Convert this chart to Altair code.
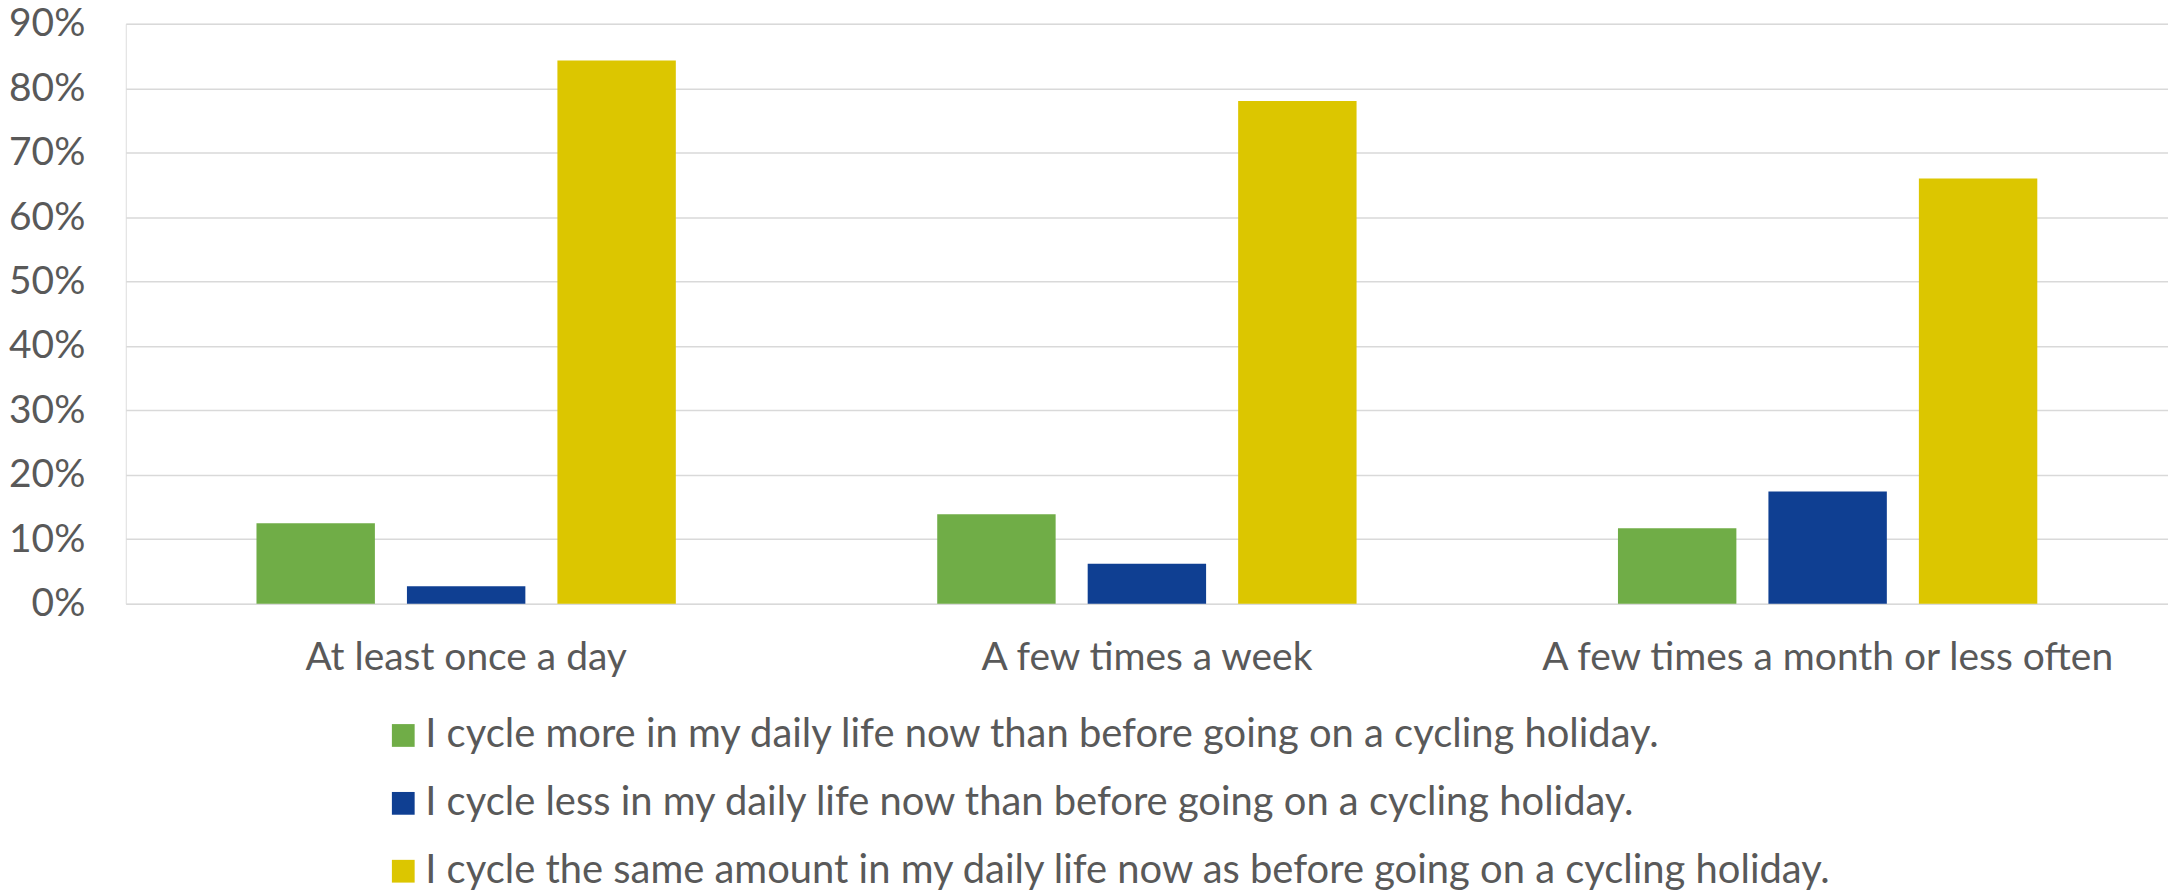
import altair as alt
import pandas as pd

categories = ["At least once a day", "A few times a week", "A few times a month or less often"]
series = [
    "I cycle more in my daily life now than before going on a cycling holiday.",
    "I cycle less in my daily life now than before going on a cycling holiday.",
    "I cycle the same amount in my daily life now as before going on a cycling holiday.",
]
more_vals = [0.125, 0.139, 0.117]
less_vals = [0.027, 0.062, 0.174]
same_vals = [0.843, 0.780, 0.660]
colors = ["#70AD47", "#0F3F92", "#DCC600"]
y_ticks = [0, 0.1, 0.2, 0.3, 0.4, 0.5, 0.6, 0.7, 0.8, 0.9]

rows = []
for s, vals in zip(series, [more_vals, less_vals, same_vals]):
    for c, v in zip(categories, vals):
        rows.append({"category": c, "series": s, "value": v})
df = pd.DataFrame(rows)

FONT = "Lato"
TXT = "#595959"
FS = 39

chart = (
    alt.Chart(df)
    .mark_bar()
    .encode(
        x=alt.X(
            "category:N",
            sort=categories,
            title=None,
            scale=alt.Scale(paddingInner=0.384, paddingOuter=0.192),
            axis=alt.Axis(
                labelAngle=0,
                labelFontSize=FS,
                labelFont=FONT,
                labelColor=TXT,
                labelPadding=35,
                domain=False,
                ticks=False,
                grid=False,
                labelLimit=0,
            ),
        ),
        xOffset=alt.XOffset(
            "series:N",
            sort=series,
            scale=alt.Scale(paddingInner=0.213, paddingOuter=0),
        ),
        y=alt.Y(
            "value:Q",
            title=None,
            scale=alt.Scale(domain=[0, 0.9], nice=False),
            axis=alt.Axis(
                values=y_ticks,
                format=".0%",
                labelFontSize=FS,
                labelFont=FONT,
                labelColor=TXT,
                labelPadding=41,
                domain=False,
                ticks=False,
                gridColor="#D9D9D9",
                gridWidth=1.5,
            ),
        ),
        color=alt.Color(
            "series:N",
            sort=series,
            scale=alt.Scale(domain=series, range=colors),
            legend=alt.Legend(
                title=None,
                orient="none",
                legendX=258,
                legendY=693,
                direction="vertical",
                symbolType="square",
                symbolSize=520,
                symbolStrokeWidth=0,
                labelFontSize=40,
                labelFont=FONT,
                labelColor=TXT,
                labelLimit=0,
                labelOffset=2,
                rowPadding=28,
                padding=0,
            ),
        ),
    )
    .properties(
        width=2046,
        height=581,
        padding={"left": 118, "top": 15, "right": 0, "bottom": 290},
        autosize=alt.AutoSizeParams(type="none"),
    )
    .configure_view(stroke=None)
    .configure(background="white")
)

chart.save("out.html", embed_options={"renderer": "svg", "actions": False})
